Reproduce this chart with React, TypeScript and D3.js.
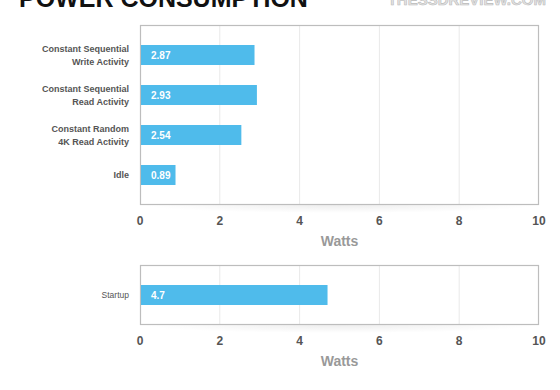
import React from "react";
import * as d3 from "d3";

// data
const activityLabels = [
  ["Constant Sequential", "Write Activity"],
  ["Constant Sequential", "Read Activity"],
  ["Constant Random", "4K Read Activity"],
  ["Idle"],
];
const activityWatts = [2.87, 2.93, 2.54, 0.89];
const startupLabels = [["Startup"]];
const startupWatts = [4.7];
const xTicks = [0, 2, 4, 6, 8, 10];

const W = 560;
const H = 390;
const barColor = "#4fbbeb";
const font = "'Liberation Sans', Arial, sans-serif";

const x = d3.scaleLinear().domain([0, 10]).range([140, 539]);

type PanelProps = {
  labels: string[][];
  values: number[];
  top: number;
  bottom: number;
  labelSize: number;
  labelWeight: string;
};

function Panel({ labels, values, top, bottom, labelSize, labelWeight }: PanelProps) {
  const y = d3
    .scaleBand<number>()
    .domain(values.map((_, i) => i))
    .range([top, bottom])
    .paddingInner(0.5)
    .paddingOuter(0.5);
  const bw = 20;
  const x0 = x(0);
  const x1 = x(10);
  return (
    <g>
      {/* soft shadow under the frame */}
      <rect x={x0} y={bottom} width={x1 - x0} height={16} fill="url(#shadow)" />
      <rect x={x0} y={top} width={x1 - x0} height={bottom - top} fill="#fff" />
      {xTicks.slice(1, -1).map((t) => (
        <line key={t} x1={x(t)} x2={x(t)} y1={top} y2={bottom} stroke="#e9e9e9" />
      ))}
      <rect
        x={x0 + 0.5}
        y={top + 0.5}
        width={x1 - x0 - 1}
        height={bottom - top - 1}
        fill="none"
        stroke="#bdbdbd"
        strokeWidth={1.2}
      />
      {values.map((v, i) => {
        const cy = (y(i) as number) + y.bandwidth() / 2;
        const lines = labels[i];
        return (
          <g key={i}>
            <rect x={x0 + 1} y={cy - bw / 2} width={x(v) - x0 - 1} height={bw} fill={barColor} />
            <text
              x={x0 + 11}
              y={cy + 3.5}
              fill="#fff"
              fontSize={10}
              fontWeight="bold"
              fontFamily={font}
            >
              {v}
            </text>
            <text
              textAnchor="end"
              fill="#555"
              fontSize={labelSize}
              fontWeight={labelWeight}
              fontFamily={font}
            >
              {lines.map((l, j) => (
                <tspan key={j} x={129} y={cy + 3 + (j - (lines.length - 1) / 2) * 13}>
                  {l}
                </tspan>
              ))}
            </text>
          </g>
        );
      })}
      {xTicks.map((t) => (
        <text
          key={t}
          x={x(t)}
          y={bottom + 20}
          textAnchor="middle"
          fill="#555"
          fontSize={12}
          fontWeight="bold"
          fontFamily={font}
        >
          {t}
        </text>
      ))}
      <text
        x={(x0 + x1) / 2}
        y={bottom + 41}
        textAnchor="middle"
        fill="#999"
        fontSize={14}
        fontWeight="bold"
        fontFamily={font}
      >
        Watts
      </text>
    </g>
  );
}

export default function App() {
  return (
    <svg
      width={W}
      height={H}
      style={{ position: "absolute", left: 0, top: 0, background: "#fff" }}
    >
      <defs>
        <radialGradient id="shadow" cx="0.5" cy="0" r="0.5" gradientTransform="scale(1 1)">
          <stop offset="0%" stopColor="#000" stopOpacity={0.07} />
          <stop offset="100%" stopColor="#000" stopOpacity={0} />
        </radialGradient>
      </defs>
      <text x={19} y={7} fontSize={25} fontWeight="bold" fontFamily={font} fill="#111">
        POWER CONSUMPTION
      </text>
      <text
        x={546}
        y={5}
        textAnchor="end"
        fontSize={15}
        fontWeight="bold"
        fontFamily={font}
        fill="#e4e4e4"
        stroke="#bbb"
        strokeWidth={0.6}
      >
        THESSDREVIEW.COM
      </text>
      <Panel
        labels={activityLabels}
        values={activityWatts}
        top={25}
        bottom={205}
        labelSize={9}
        labelWeight="bold"
      />
      <Panel
        labels={startupLabels}
        values={startupWatts}
        top={265}
        bottom={325}
        labelSize={8.5}
        labelWeight="normal"
      />
    </svg>
  );
}
